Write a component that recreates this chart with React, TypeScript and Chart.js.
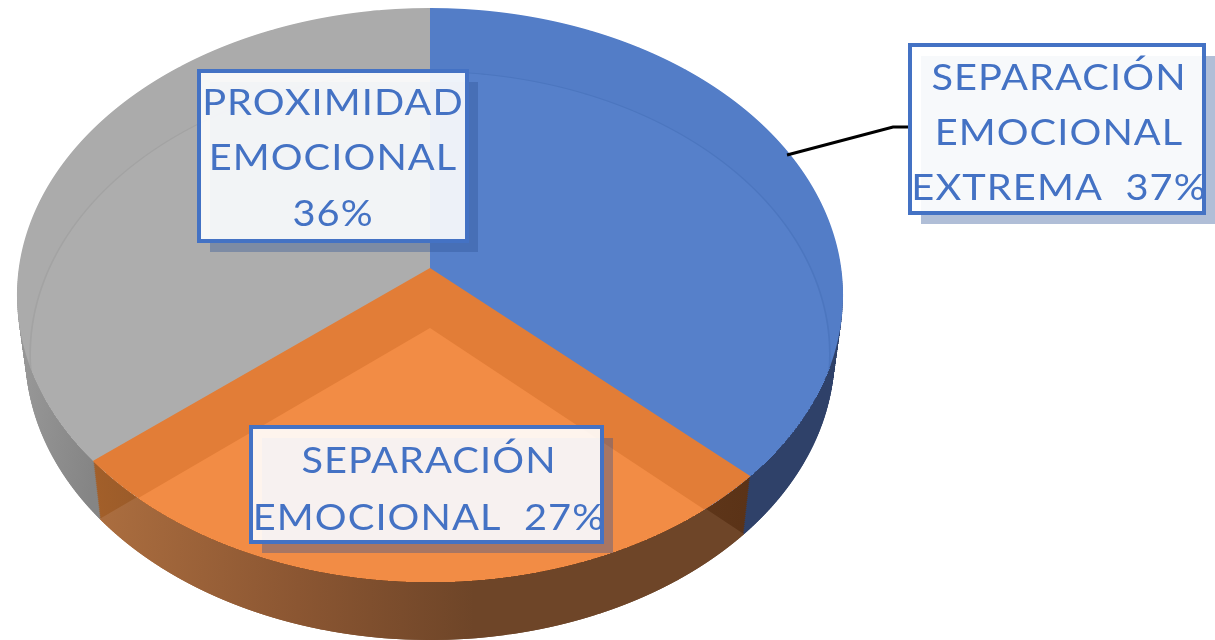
import React, { useEffect, useRef } from "react";
import { Chart, registerables } from "chart.js";

Chart.register(...registerables);

const categories = [
  ["SEPARACIÓN", "EMOCIONAL", "EXTREMA"],
  ["SEPARACIÓN", "EMOCIONAL"],
  ["PROXIMIDAD", "EMOCIONAL"],
];
const values = [37, 27, 36];
const faceColors = ["#537DC7", "#E27D37", "#ABABAB"];
const innerRimColors = ["#4C76BF", "#F28C45", "#A3A3A3"];
const innerColors = ["#5680CA", "#F28C45", "#ADADAD"];

// Projection of the flat pie onto the tilted disc
const AX = 430, AY = 268, TOP = 260, BOTTOM = 314, B = 411.2;
const K = (TOP - BOTTOM) / (TOP + BOTTOM);
const A = TOP * (1 - K);
const DEPTH = 58;

type Layer = { dy: number; sx: number; sy: number };

function drawLayer(ctx: any, arcs: any[], idx: number[], layer: Layer, colors: any[], step = 1, inFace = false) {
  const R = arcs[0].outerRadius, cx = arcs[0].x, cy = arcs[0].y;
  const y0 = Math.floor(AY + layer.dy - TOP * layer.sy) - 1;
  const y1 = Math.min(640, Math.ceil(AY + layer.dy + BOTTOM * layer.sy) + 1);
  const shaded = idx.map((i) => {
    const clone = Object.create(arcs[i]);
    clone.options = Object.create(arcs[i].options, {
      backgroundColor: { value: colors[i] },
      borderWidth: { value: 0 },
    });
    return clone;
  });
  for (let y = y0; y < y1; y += step) {
    const yc = y + step / 2;
    const yy = (yc - AY - layer.dy) / layer.sy;
    const v = yy / (A - K * yy);
    if (Math.abs(v) > 1.01) continue;
    const f = 1 + K * v;
    const sx = (layer.sx * B) / (f * R);
    const sy = (layer.sy * A) / (f * f * R);
    ctx.save();
    ctx.beginPath();
    if (inFace) {
      const yf = yc - AY;
      const vf = yf / (A - K * yf);
      if (Math.abs(vf) > 1) { ctx.restore(); continue; }
      const half = (B * Math.sqrt(1 - vf * vf)) / (1 + K * vf);
      ctx.rect(Math.round(AX - half), y, Math.round(2 * half), step);
    } else {
      ctx.rect(0, y, 1215, step);
    }
    ctx.clip();
    ctx.setTransform(sx, 0, 0, sy, AX - sx * cx, yc - sy * (cy + R * v));
    for (const a of shaded) a.draw(ctx);
    ctx.restore();
  }
}

function grad(ctx: any, arc: any, stops: [number, string][]) {
  const g = ctx.createLinearGradient(arc.x - arc.outerRadius, 0, arc.x + arc.outerRadius, 0);
  stops.forEach(([p, c]) => g.addColorStop(p, c));
  return g;
}

const perspective = {
  id: "perspective",
  beforeDatasetsDraw(chart: any) {
    const ctx = chart.ctx;
    const arcs = chart.getDatasetMeta(0).data;
    const bottomFace = [
      "#2F4169",
      grad(ctx, arcs[0], [[0.1, "#AD6F40"], [0.35, "#8B5632"], [0.55, "#6E4528"], [1, "#6E4528"]]),
      grad(ctx, arcs[0], [[0, "#989898"], [0.1, "#858585"], [1, "#858585"]]),
    ];
    const cutFace = [
      bottomFace[0],
      grad(ctx, arcs[0], [[0.1, "#A4602A"], [0.5, "#6E4528"], [0.88, "#5A3216"]]),
      bottomFace[2],
    ];
    for (const i of [0, 2, 1]) {
      for (let d = DEPTH; d > 0; d -= 2) {
        const s = 1 - 0.02 * (d / DEPTH);
        drawLayer(ctx, arcs, [i], { dy: d, sx: s, sy: 1 }, cutFace, 2);
      }
      drawLayer(ctx, arcs, [i], { dy: DEPTH, sx: 0.98, sy: 1 }, bottomFace, 1);
    }
    const sides = [0, 2];
    drawLayer(ctx, arcs, [0, 1, 2], { dy: 0, sx: 1, sy: 1 }, faceColors);
    drawLayer(ctx, arcs, sides, { dy: 60, sx: 0.97, sy: 0.988 }, innerRimColors, 1, true);
    drawLayer(ctx, arcs, sides, { dy: 60, sx: 0.966, sy: 0.984 }, innerColors, 1, true);
    drawLayer(ctx, arcs, [1], { dy: 0, sx: 1, sy: 1 }, faceColors);
    drawLayer(ctx, arcs, [1], { dy: 60, sx: 0.966, sy: 0.984 }, innerColors, 1, true);
    return false;
  },
  afterDraw(chart: any) {
    const ctx = chart.ctx;
    ctx.save();
    ctx.strokeStyle = "#000000";
    ctx.lineWidth = 3;
    ctx.beginPath();
    ctx.moveTo(787, 155);
    ctx.lineTo(893, 127);
    ctx.lineTo(910, 127);
    ctx.stroke();

    const boxes = [
      { x: 910, y: 45, w: 294, h: 168, cx: 1059, base: [90, 145, 200] },
      { x: 251, y: 427, w: 351, h: 115, cx: 429, base: [473, 530] },
      { x: 199, y: 71, w: 268, h: 170, cx: 333, base: [115, 170, 226] },
    ];
    const data = chart.data.datasets[0].data;
    boxes.forEach((b, i) => {
      ctx.fillStyle = "rgba(47,84,150,0.38)";
      ctx.fillRect(b.x + 11, b.y + 11, b.w, b.h);
      ctx.fillStyle = "rgba(255,255,255,0.9)";
      ctx.fillRect(b.x, b.y, b.w, b.h);
      ctx.strokeStyle = "#4472C4";
      ctx.lineWidth = 4;
      ctx.strokeRect(b.x, b.y, b.w, b.h);
      const cat: string[] = chart.data.labels[i];
      const pct = `${data[i]}%`;
      const lines =
        i === 2
          ? [...cat, pct]
          : [...cat.slice(0, -1), `${cat[cat.length - 1]}  ${pct}`];
      ctx.fillStyle = "#4472C4";
      ctx.font = "37px Lato";
      ctx.letterSpacing = "1px";
      ctx.textAlign = "center";
      ctx.textBaseline = "alphabetic";
      lines.forEach((t, j) => {
        ctx.save();
        ctx.translate(b.cx, b.base[j]);
        ctx.scale(1.075, 1);
        ctx.fillText(t, 0, 0);
        ctx.restore();
      });
    });
    ctx.restore();
  },
};

export default function App() {
  const ref = useRef<HTMLCanvasElement>(null);
  useEffect(() => {
    document.body.style.margin = "0";
    const chart = new Chart(ref.current!, {
      type: "pie",
      data: {
        labels: categories as any,
        datasets: [{ data: values, backgroundColor: faceColors, borderWidth: 0 }],
      },
      options: {
        animation: false,
        responsive: false,
        layout: { padding: 0 },
        plugins: { legend: { display: false }, tooltip: { enabled: false } },
      },
      plugins: [perspective],
    });
    return () => chart.destroy();
  }, []);
  return (
    <canvas
      ref={ref}
      width={1215}
      height={640}
      style={{ display: "block", filter: "blur(0.6px)" }}
    />
  );
}
